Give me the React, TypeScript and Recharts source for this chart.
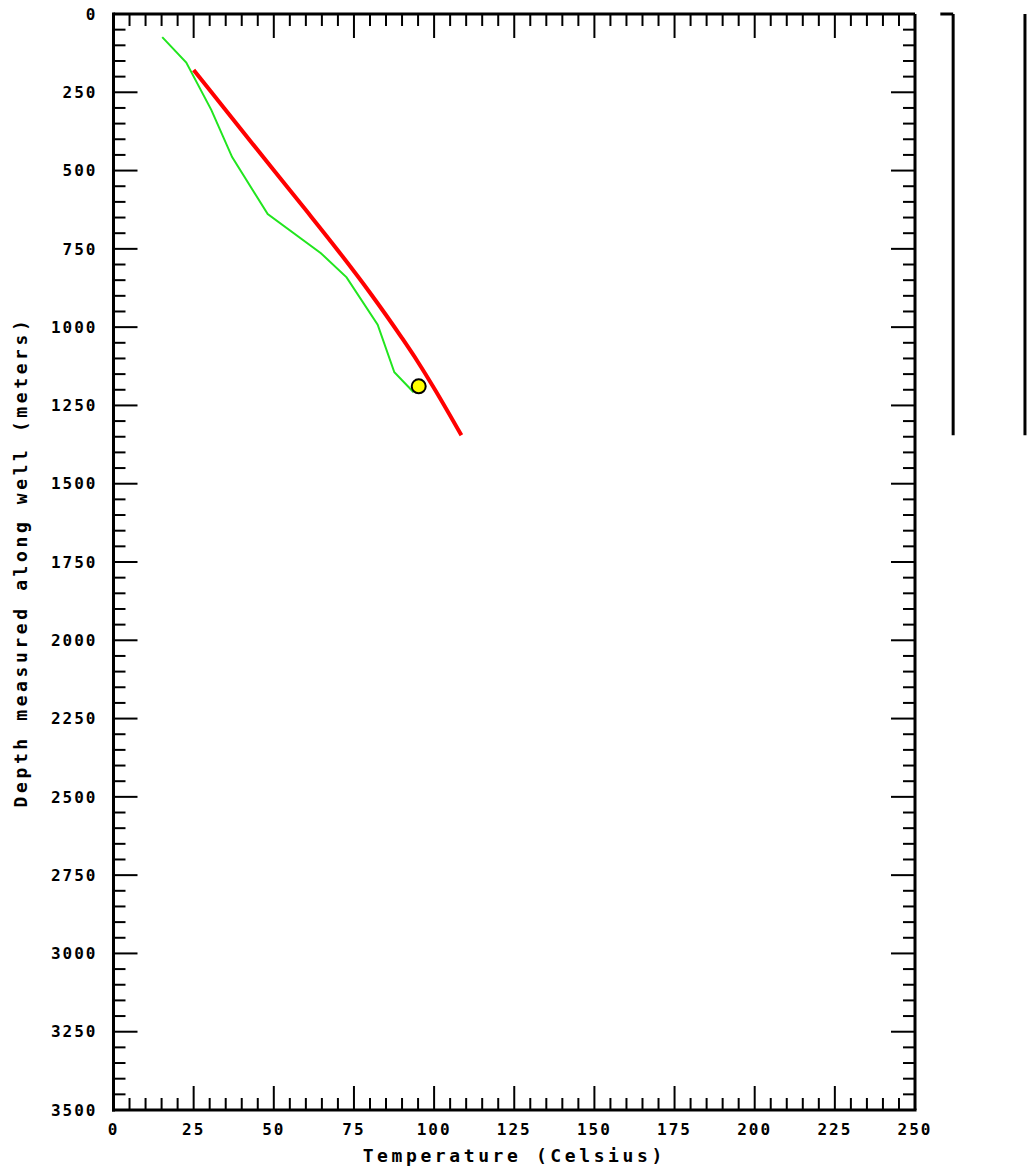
import { ComposedChart, Line, Scatter, XAxis, YAxis, ReferenceLine, Label } from "recharts";

// axis labels (major ticks) and minor tick steps
const TEMP_LABELS = [0, 25, 50, 75, 100, 125, 150, 175, 200, 225, 250];
const DEPTH_LABELS = [0, 250, 500, 750, 1000, 1250, 1500, 1750, 2000, 2250, 2500, 2750, 3000, 3250, 3500];
const TEMP_TICKS = Array.from({ length: 51 }, (_, i) => i * 5);
const DEPTH_TICKS = Array.from({ length: 71 }, (_, i) => i * 50);

// modelled temperature profile
const modelTemp = [25, 30, 40, 50, 60, 70, 80, 90, 95, 100, 108.5];
const modelDepth = [179, 243, 371, 499, 626, 755, 890, 1035, 1112, 1195, 1345];

// logged temperatures
const logTemp = [15.2, 22.7, 30.5, 37, 48.1, 64.7, 72.7, 82.4, 87.6, 93.6];
const logDepth = [74, 155, 306, 457, 639, 764, 841, 992, 1144, 1208];

// bottom hole temperature
const bhtTemp = [95.2];
const bhtDepth = [1189];

// well column on the right (positions in temperature-axis units)
const COLUMN_X = [261.9, 284.3];
const HOOK_X = 257.9;
const WELL_TD = 1345;

const zip = (t: number[], d: number[]) => t.map((temp, i) => ({ temp, depth: d[i] }));
const modelData = zip(modelTemp, modelDepth);
const logData = zip(logTemp, logDepth);
const bhtData = zip(bhtTemp, bhtDepth);

const FONT = "'DejaVu Sans Mono', monospace";
const MAJOR = 24;
const MINOR = 12;

const BottomTick = (props: any) => {
  const { x, y, payload } = props;
  const major = TEMP_LABELS.includes(payload.value);
  return (
    <g>
      <line x1={x} x2={x} y1={y} y2={y - (major ? MAJOR : MINOR)} stroke="#000" strokeWidth={2} />
      {major && (
        <text x={x} y={y + 25} textAnchor="middle" fontFamily={FONT} fontWeight="bold" fontSize={16} letterSpacing={2} fill="#000">
          {payload.value}
        </text>
      )}
    </g>
  );
};

const TopTick = (props: any) => {
  const { x, y, payload } = props;
  const major = TEMP_LABELS.includes(payload.value);
  return <line x1={x} x2={x} y1={y} y2={y + (major ? MAJOR : MINOR)} stroke="#000" strokeWidth={2} />;
};

const LeftTick = (props: any) => {
  const { x, y, payload } = props;
  const major = DEPTH_LABELS.includes(payload.value);
  return (
    <g>
      <line x1={x} x2={x + (major ? MAJOR : MINOR)} y1={y} y2={y} stroke="#000" strokeWidth={2} />
      {major && (
        <text x={x - 16} y={y} dy="0.36em" textAnchor="end" fontFamily={FONT} fontWeight="bold" fontSize={16} letterSpacing={2} fill="#000">
          {payload.value}
        </text>
      )}
    </g>
  );
};

const RightTick = (props: any) => {
  const { x, y, payload } = props;
  const major = DEPTH_LABELS.includes(payload.value);
  return <line x1={x} x2={x - (major ? MAJOR : MINOR)} y1={y} y2={y} stroke="#000" strokeWidth={2} />;
};

const frame = { stroke: "#000", strokeWidth: 3, strokeLinecap: "square" as const };

export default function App() {
  return (
    <div style={{ position: "absolute", left: 0, top: 0, background: "#fff" }}>
      <ComposedChart width={1027} height={1176} margin={{ top: 13, right: 111, bottom: 26, left: 13.5 }}>
        <XAxis
          xAxisId="bottom"
          dataKey="temp"
          type="number"
          domain={[0, 250]}
          ticks={TEMP_TICKS}
          interval={0}
          height={40}
          tickSize={0}
          tickMargin={0}
          tickLine={false}
          axisLine={frame}
          tick={BottomTick}
          allowDataOverflow
        >
          <Label
            content={({ viewBox }: any) => (
              <text
                x={viewBox.x + viewBox.width / 2}
                y={viewBox.y + 52}
                textAnchor="middle"
                fontFamily={FONT}
                fontWeight="bold"
                fontSize={18}
                letterSpacing={3.6}
                fill="#000"
              >
                Temperature (Celsius)
              </text>
            )}
          />
        </XAxis>
        <XAxis
          xAxisId="top"
          orientation="top"
          dataKey="temp"
          type="number"
          domain={[0, 250]}
          ticks={TEMP_TICKS}
          interval={0}
          height={1}
          tickSize={0}
          tickMargin={0}
          tickLine={false}
          axisLine={false}
          tick={TopTick}
          allowDataOverflow
        />
        <YAxis
          yAxisId="left"
          type="number"
          domain={[0, 3500]}
          reversed
          ticks={DEPTH_TICKS}
          interval={0}
          width={100}
          tickSize={0}
          tickMargin={0}
          tickLine={false}
          axisLine={frame}
          tick={LeftTick}
          allowDataOverflow
        >
          <Label
            content={({ viewBox }: any) => {
              const cx = viewBox.x + 13;
              const cy = viewBox.y + viewBox.height / 2;
              return (
                <text
                  x={cx}
                  y={cy}
                  transform={`rotate(-90, ${cx}, ${cy})`}
                  textAnchor="middle"
                  fontFamily={FONT}
                  fontWeight="bold"
                  fontSize={18}
                  letterSpacing={3.6}
                  fill="#000"
                >
                  Depth measured along well (meters)
                </text>
              );
            }}
          />
        </YAxis>
        <YAxis
          yAxisId="right"
          orientation="right"
          type="number"
          domain={[0, 3500]}
          reversed
          ticks={DEPTH_TICKS}
          interval={0}
          width={1}
          tickSize={0}
          tickMargin={0}
          tickLine={false}
          axisLine={false}
          tick={RightTick}
          allowDataOverflow
        />

        {/* top and right sides of the frame */}
        <ReferenceLine xAxisId="bottom" yAxisId="left" y={0} stroke="#000" strokeWidth={3} ifOverflow="visible" />
        <ReferenceLine xAxisId="bottom" yAxisId="left" x={250} stroke="#000" strokeWidth={3} ifOverflow="visible" />

        <Line
          xAxisId="bottom"
          yAxisId="left"
          data={logData}
          dataKey="depth"
          type="linear"
          stroke="#22e51f"
          strokeWidth={2}
          dot={false}
          isAnimationActive={false}
        />
        <Line
          xAxisId="bottom"
          yAxisId="left"
          data={modelData}
          dataKey="depth"
          type="monotone"
          stroke="#ff0000"
          strokeWidth={4}
          dot={false}
          isAnimationActive={false}
        />
        <Scatter
          xAxisId="bottom"
          yAxisId="left"
          data={bhtData}
          dataKey="depth"
          fill="#ffff00"
          stroke="#000"
          strokeWidth={2}
          shape={(p: any) => <circle cx={p.cx} cy={p.cy} r={7} fill="#ffff00" stroke="#000" strokeWidth={2} />}
          isAnimationActive={false}
        />

        {COLUMN_X.map((cx) => (
          <ReferenceLine
            key={cx}
            xAxisId="bottom"
            yAxisId="left"
            ifOverflow="visible"
            segment={[
              { x: cx, y: 0 },
              { x: cx, y: WELL_TD },
            ]}
            stroke="#000"
            strokeWidth={3}
          />
        ))}
        <ReferenceLine
          xAxisId="bottom"
          yAxisId="left"
          ifOverflow="visible"
          segment={[
            { x: HOOK_X, y: 0 },
            { x: COLUMN_X[0], y: 0 },
          ]}
          stroke="#000"
          strokeWidth={3}
        />
      </ComposedChart>
    </div>
  );
}
